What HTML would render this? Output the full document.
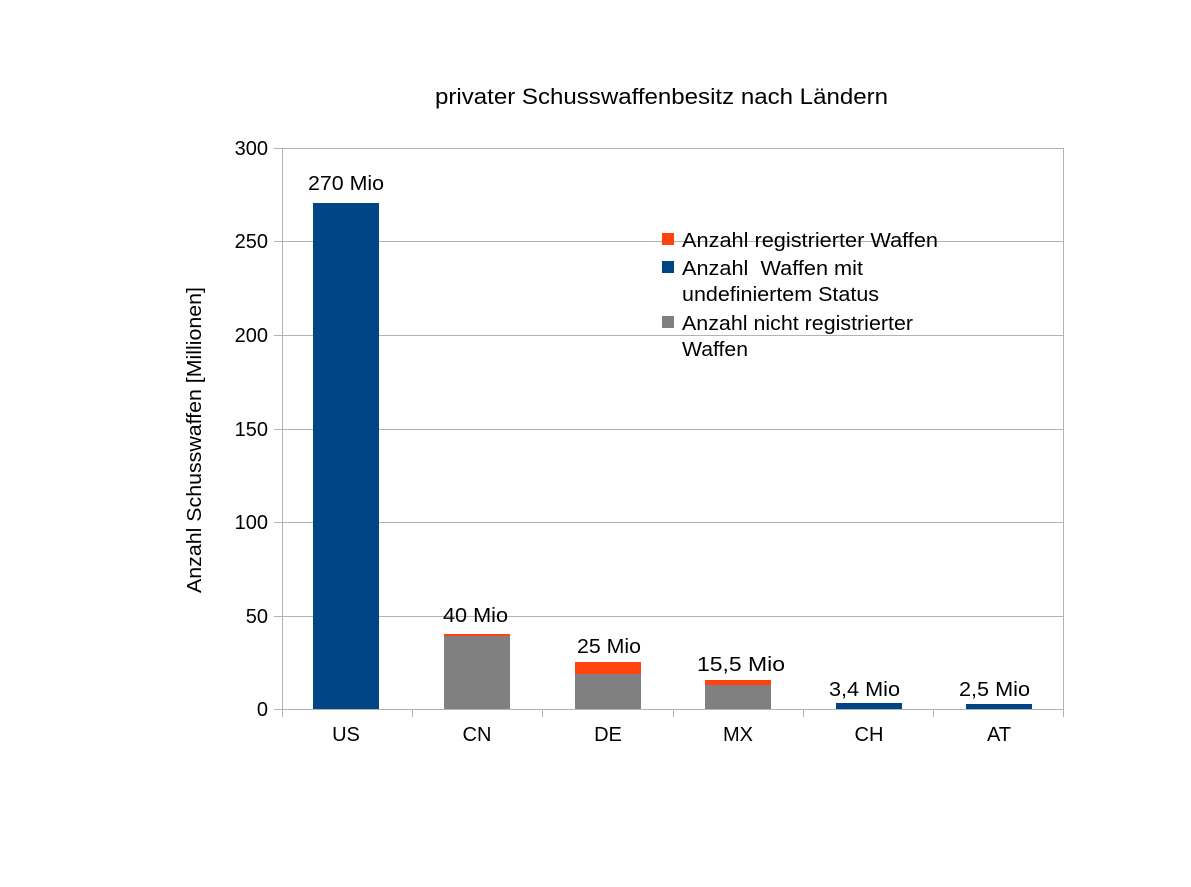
<!DOCTYPE html>
<html><head><meta charset="utf-8"><style>body{margin:0;background:#fff}svg{display:block}text{font-family:"Liberation Sans",sans-serif;fill:#000}</style></head><body>
<svg width="1191" height="887" viewBox="0 0 1191 887">
<rect width="1191" height="887" fill="#fff"/>
<text x="435" y="104" font-size="22" textLength="453" lengthAdjust="spacingAndGlyphs">privater Schusswaffenbesitz nach Ländern</text>
<g stroke="#b3b3b3" stroke-width="1" fill="none">
<rect x="282.5" y="148.5" width="781" height="561"/>
<line x1="282" y1="616.5" x2="1063" y2="616.5"/>
<line x1="282" y1="522.5" x2="1063" y2="522.5"/>
<line x1="282" y1="429.5" x2="1063" y2="429.5"/>
<line x1="282" y1="335.5" x2="1063" y2="335.5"/>
<line x1="282" y1="241.5" x2="1063" y2="241.5"/>
<line x1="274" y1="148.5" x2="282" y2="148.5"/>
<line x1="274" y1="241.5" x2="282" y2="241.5"/>
<line x1="274" y1="335.5" x2="282" y2="335.5"/>
<line x1="274" y1="429.5" x2="282" y2="429.5"/>
<line x1="274" y1="522.5" x2="282" y2="522.5"/>
<line x1="274" y1="616.5" x2="282" y2="616.5"/>
<line x1="274" y1="709.5" x2="282" y2="709.5"/>
<line x1="282.5" y1="709" x2="282.5" y2="717"/>
<line x1="412.5" y1="709" x2="412.5" y2="717"/>
<line x1="542.5" y1="709" x2="542.5" y2="717"/>
<line x1="673.5" y1="709" x2="673.5" y2="717"/>
<line x1="803.5" y1="709" x2="803.5" y2="717"/>
<line x1="933.5" y1="709" x2="933.5" y2="717"/>
<line x1="1063.5" y1="709" x2="1063.5" y2="717"/>
</g>
<g font-size="20" text-anchor="end">
<text x="268" y="155">300</text><text x="268" y="248">250</text><text x="268" y="342">200</text><text x="268" y="436">150</text><text x="268" y="529">100</text><text x="268" y="623">50</text><text x="268" y="716">0</text>
</g>
<text font-size="20" transform="translate(201,593) rotate(-90)" textLength="306" lengthAdjust="spacingAndGlyphs">Anzahl Schusswaffen [Millionen]</text>
<rect x="313" y="203" width="66" height="506" fill="#004586"/>
<rect x="444" y="634" width="66" height="2" fill="#ff420e"/><rect x="444" y="636" width="66" height="73" fill="#808080"/>
<rect x="575" y="662" width="66" height="12" fill="#ff420e"/><rect x="575" y="674" width="66" height="35" fill="#808080"/>
<rect x="705" y="680" width="66" height="5" fill="#ff420e"/><rect x="705" y="685" width="66" height="24" fill="#808080"/>
<rect x="836" y="703" width="66" height="6" fill="#004586"/>
<rect x="966" y="704" width="66" height="5" fill="#004586"/>
<g font-size="20">
<text x="308" y="190" textLength="76" lengthAdjust="spacingAndGlyphs">270 Mio</text>
<text x="443" y="622" textLength="65" lengthAdjust="spacingAndGlyphs">40 Mio</text>
<text x="577" y="653" textLength="64" lengthAdjust="spacingAndGlyphs">25 Mio</text>
<text x="697" y="671" textLength="88" lengthAdjust="spacingAndGlyphs">15,5 Mio</text>
<text x="829" y="696" textLength="71" lengthAdjust="spacingAndGlyphs">3,4 Mio</text>
<text x="959" y="696" textLength="71" lengthAdjust="spacingAndGlyphs">2,5 Mio</text>
</g>
<g font-size="20" text-anchor="middle">
<text x="346" y="741">US</text><text x="477" y="741">CN</text><text x="608" y="741">DE</text><text x="738" y="741">MX</text><text x="869" y="741">CH</text><text x="999" y="741">AT</text>
</g>
<rect x="662" y="233" width="12" height="12" fill="#ff420e"/>
<rect x="662" y="261" width="12" height="12" fill="#004586"/>
<rect x="662" y="316" width="12" height="12" fill="#808080"/>
<g font-size="20">
<text x="682" y="247" textLength="256" lengthAdjust="spacingAndGlyphs">Anzahl registrierter Waffen</text>
<text x="682" y="275" xml:space="preserve" textLength="181" lengthAdjust="spacingAndGlyphs">Anzahl  Waffen mit</text>
<text x="682" y="301" textLength="197" lengthAdjust="spacingAndGlyphs">undefiniertem Status</text>
<text x="682" y="330" textLength="231" lengthAdjust="spacingAndGlyphs">Anzahl nicht registrierter</text>
<text x="682" y="356" textLength="66" lengthAdjust="spacingAndGlyphs">Waffen</text>
</g>
</svg>
</body></html>
